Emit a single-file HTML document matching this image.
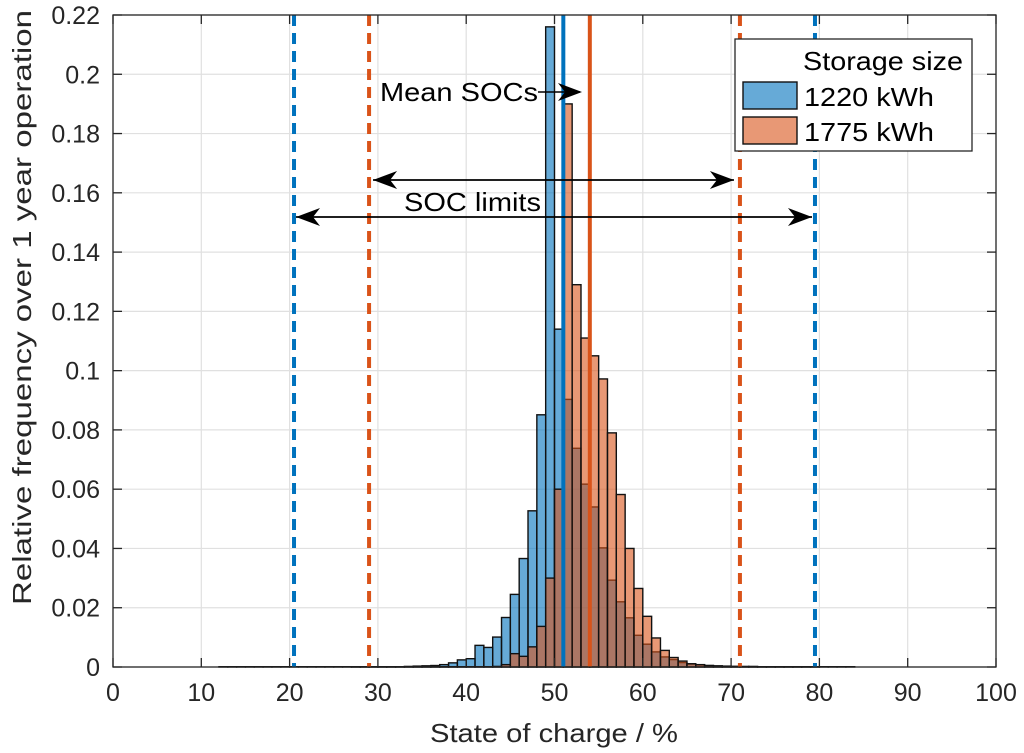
<!DOCTYPE html>
<html><head><meta charset="utf-8"><style>
body{margin:0;background:#fff;}
svg{display:block;font-family:"Liberation Sans",Arial,sans-serif;}
</style></head><body>
<svg id="chart" width="1024" height="753" viewBox="0 0 1024 753"></svg>
<script>
const binStart = 12;
const blueVals = [0.0001,0.0001,0.0001,0.0001,0.0001,0.0001,0.0001,0.0001,0.0001,0.0001,0.0001,0.0001,0.0001,0.0001,0.0001,0.0001,0.0001,0.0001,0.0001,0.0001,0.0001,0.0002,0.0003,0.0004,0.0005,0.0008,0.0014,0.0024,0.0028,0.0073,0.0066,0.0101,0.0167,0.0245,0.0366,0.0527,0.0851,0.216,0.114,0.0903,0.0738,0.0617,0.054,0.0402,0.0293,0.022,0.0166,0.0107,0.0077,0.0051,0.0034,0.0025,0.0015,0.001,0.0007,0.0005,0.0004,0.0003,0.0002,0.0002,0.0002,0.0001,0.0001,0.0001,0.0001,0.0001,0.0001,0.0001,0.0001,0.0001,0.0001,0.0001];
const orangeVals = [0,0,0,0,0,0,0,0,0,0,0,0,0,0,0,0.0001,0.0001,0.0001,0.0001,0.0001,0.0001,0.0001,0.0001,0.0001,0.0001,0.0001,0.0001,0.0001,0.0001,0.0001,0.0001,0.0002,0.0008,0.0045,0.0036,0.0068,0.0137,0.030,0.060,0.19,0.129,0.111,0.105,0.0972,0.079,0.0582,0.040,0.0265,0.0171,0.0098,0.0056,0.0032,0.002,0.0011,0.0008,0.0005,0.0003,0.0002,0.0002,0.0001,0.0001,0.0001,0.0001,0.0001,0.0001,0.0001,0.0001,0.0001,0,0,0,0];
const xTicks = [0,10,20,30,40,50,60,70,80,90,100];
const yTicks = [0,0.02,0.04,0.06,0.08,0.1,0.12,0.14,0.16,0.18,0.2,0.22];
const yTickLabels = ["0","0.02","0.04","0.06","0.08","0.1","0.12","0.14","0.16","0.18","0.2","0.22"];
const blueLimits = [20.5,79.5];
const orangeLimits = [29,71];
const blueMean = 51;
const orangeMean = 54;

const L=113,R=996,T=15,B=667;
const X=v=>L+(v/100)*(R-L);
const Y=v=>B-(v/0.22)*(B-T);
const NS="http://www.w3.org/2000/svg";
const svg=document.getElementById('chart');
function mk(tag,attrs,parent){const e=document.createElementNS(NS,tag);for(const k in attrs)e.setAttribute(k,attrs[k]);(parent||svg).appendChild(e);return e;}

const grid=mk('g',{});


xTicks.forEach(t=>mk('line',{x1:X(t),x2:X(t),y1:T,y2:B,stroke:'#e0e0e0','stroke-width':1.2},grid));
yTicks.forEach(t=>mk('line',{x1:L,x2:R,y1:Y(t),y2:Y(t),stroke:'#e0e0e0','stroke-width':1.2},grid));

function bars(vals,color,name){
  const g=mk('g',{});
  
  
  vals.forEach((v,i)=>{
    if(v<=0)return;
    const k=binStart+i;
    const r=mk('rect',{x:X(k),y:Y(v),width:X(k+1)-X(k),height:B-Y(v),fill:color,'fill-opacity':0.6,stroke:'#111','stroke-width':1.4},g);
    
    
  });
}
bars(blueVals,'#0072bd','series-1220kwh');
bars(orangeVals,'#d95319','series-1775kwh');

function vline(v,color,dash,name){
  const l=mk('line',{x1:X(v),x2:X(v),y1:T,y2:B,stroke:color,'stroke-width':4,'stroke-dasharray':dash});
  
  
}
blueLimits.forEach(v=>vline(v,'#0072bd','11 7','blue-soc-limit'));
orangeLimits.forEach(v=>vline(v,'#d95319','11 7','orange-soc-limit'));
vline(blueMean,'#0072bd','none','blue-mean-soc');
vline(orangeMean,'#d95319','none','orange-mean-soc');

const ax=mk('g',{});


mk('rect',{x:L,y:T,width:R-L,height:B-T,fill:'none',stroke:'#262626','stroke-width':1.3},ax);
xTicks.forEach(t=>{
  mk('line',{x1:X(t),x2:X(t),y1:B,y2:B-9,stroke:'#262626','stroke-width':1.3},ax);
  mk('line',{x1:X(t),x2:X(t),y1:T,y2:T+9,stroke:'#262626','stroke-width':1.3},ax);
  const tx=mk('text',{x:X(t),y:B+34,'text-anchor':'middle','font-size':25,fill:'#262626'},ax);
  tx.textContent=t;
  
  
});
yTicks.forEach((t,i)=>{
  mk('line',{x1:L,x2:L+9,y1:Y(t),y2:Y(t),stroke:'#262626','stroke-width':1.3},ax);
  mk('line',{x1:R,x2:R-9,y1:Y(t),y2:Y(t),stroke:'#262626','stroke-width':1.3},ax);
  const tx=mk('text',{x:L-13,y:Y(t)+9,'text-anchor':'end','font-size':25,fill:'#262626'},ax);
  tx.textContent=yTickLabels[i];
  
  
});

const an=mk('g',{});


function arrowHead(x,y,dir){mk('path',{d:`M${x},${y} L${x-dir*24},${y-9} L${x-dir*17},${y} L${x-dir*24},${y+9} Z`,fill:'#000'},an);}
mk('line',{x1:538,x2:580,y1:92,y2:92,stroke:'#000','stroke-width':1.5},an);arrowHead(582,92,1);
mk('line',{x1:X(orangeLimits[0])+4,x2:X(orangeLimits[1])-6,y1:180,y2:180,stroke:'#000','stroke-width':1.8},an);
arrowHead(X(orangeLimits[0])+4,180,-1);arrowHead(X(orangeLimits[1])-6,180,1);
mk('line',{x1:X(blueLimits[0])+2,x2:X(blueLimits[1])-3,y1:217,y2:217,stroke:'#000','stroke-width':1.8},an);
arrowHead(X(blueLimits[0])+2,217,-1);arrowHead(X(blueLimits[1])-3,217,1);
let t1=mk('text',{x:380,y:101,'font-size':26,fill:'#000',textLength:158,lengthAdjust:'spacingAndGlyphs'},an);t1.textContent='Mean SOCs';

let t2=mk('text',{x:404,y:211,'font-size':26,fill:'#000',textLength:137,lengthAdjust:'spacingAndGlyphs'},an);t2.textContent='SOC limits';


let xt=mk('text',{x:430,y:742,'font-size':26,fill:'#262626',textLength:248,lengthAdjust:'spacingAndGlyphs'});xt.textContent='State of charge / %';

let yt=mk('text',{x:-605,y:0,'font-size':26,fill:'#262626',transform:'translate(31,0) rotate(-90)',textLength:595,lengthAdjust:'spacingAndGlyphs'});yt.textContent='Relative frequency over 1 year operation';


const lg=mk('g',{});


mk('rect',{x:735,y:39,width:237,height:112,fill:'#fff',stroke:'#262626','stroke-width':1.3},lg);
let lt=mk('text',{x:803,y:70,'font-size':26,fill:'#000',textLength:160,lengthAdjust:'spacingAndGlyphs'},lg);lt.textContent='Storage size';

[['1220 kWh','#0072bd',82],['1775 kWh','#d95319',117]].forEach(([lab,c,y])=>{
  const e=mk('g',{},lg);
  
  
  mk('rect',{x:743,y:y,width:54,height:27,fill:c,'fill-opacity':0.6,stroke:'#111','stroke-width':1.4},e);
  const t=mk('text',{x:804,y:y+24,'font-size':26,fill:'#000',textLength:130,lengthAdjust:'spacingAndGlyphs'},e);t.textContent=lab;
});
</script>
</body></html>
